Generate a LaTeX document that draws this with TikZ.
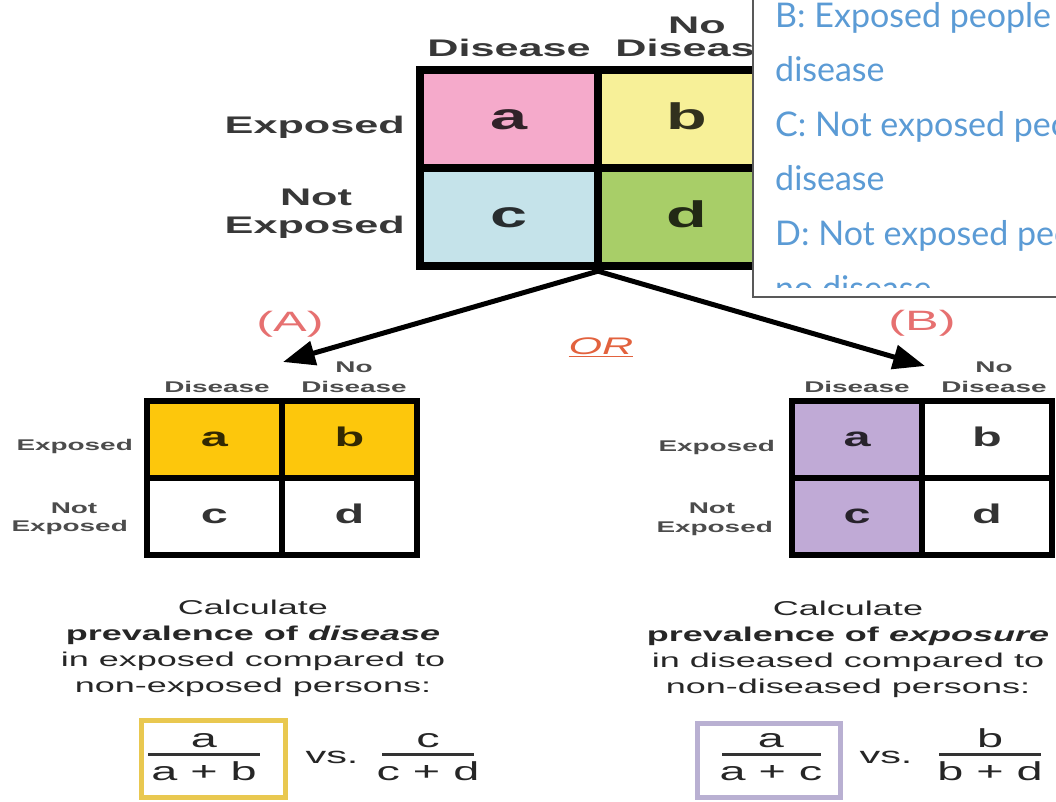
\documentclass[tikz,border=0pt]{standalone}
\usepackage{fontspec}
\usetikzlibrary{arrows.meta}
\newfontfamily\widefont{Liberation Sans}[FakeStretch=1.8]
\newfontfamily\notefont{Lato}
\definecolor{cellpink}{RGB}{245,170,203}
\definecolor{cellyellow}{RGB}{247,240,152}
\definecolor{cellblue}{RGB}{197,227,234}
\definecolor{cellgreen}{RGB}{168,206,104}
\definecolor{cellgold}{RGB}{253,199,12}
\definecolor{celllilac}{RGB}{192,170,214}
\definecolor{noteblue}{RGB}{91,155,213}
\definecolor{tagred}{RGB}{230,112,112}
\definecolor{orred}{RGB}{226,98,62}
\definecolor{boxgold}{RGB}{233,200,80}
\definecolor{boxlilac}{RGB}{185,176,210}
\begin{document}
\begin{tikzpicture}[x=1pt, y=-1pt,
  bigcell/.style={draw, line width=8pt, minimum width=178pt, minimum height=98pt, inner sep=0pt,
    text height=20pt, text depth=0pt, font=\widefont\bfseries\fontsize{37}{37}\selectfont},
  smallcell/.style={draw, line width=6pt, minimum width=135pt, minimum height=77pt, inner sep=0pt,
    text height=14.5pt, text depth=0pt, font=\widefont\bfseries\fontsize{27}{27}\selectfont},
  biglbl/.style={inner sep=0pt, text=black!78, font=\widefont\bfseries\fontsize{24}{26}\selectfont},
  smalllbl/.style={inner sep=0pt, text=black!70, font=\widefont\bfseries\fontsize{15.5}{17}\selectfont},
  body/.style={inner sep=0pt, align=center, text=black!85, font=\widefont\fontsize{20}{26}\selectfont},
  frm/.style={inner sep=0pt, text=black!85, font=\widefont\fontsize{26}{26}\selectfont},
  bar/.style={line width=3.5pt, black!80},
  arr/.style={line width=5pt, -{Triangle[length=32pt,width=24pt]}},
  note/.style={inner sep=0pt, text=noteblue, font=\notefont\fontsize{34}{34}\selectfont},
  tag/.style={inner sep=0pt, text=tagred, font=\widefont\fontsize{28}{28}\selectfont}
]
\useasboundingbox (0,0) rectangle (1056,801);
\clip (0,0) rectangle (1056,801);

% main table
\foreach \n/\x/\y/\c in {a/509/119/cellpink, b/687/119/cellyellow, c/509/217/cellblue, d/687/217/cellgreen}
  \node[bigcell, fill=\c, text=\c!20!black] (top\n) at (\x,\y) {\n};
\node[biglbl, anchor=base] (topdis) at (509,56) {Disease};
\node[biglbl, anchor=base] (topno) at (697,33) {No};
\node[biglbl, anchor=base] (topnodis) at (697,56) {Disease};
\node[biglbl, anchor=base east] (topexp) at (405,133) {Exposed};
\node[biglbl, anchor=base] (topnot) at (316,205) {Not};
\node[biglbl, anchor=base east] (topnotexp) at (405,233) {Exposed};

% table (A)
\foreach \n/\x/\y/\c in {a/214.5/439/cellgold, b/349.5/439/cellgold, c/214.5/516/white, d/349.5/516/white}
  \node[smallcell, fill=\c, text=\c!20!black] (left\n) at (\x,\y) {\n};
\node[smalllbl, anchor=base] (leftdis) at (217,392) {Disease};
\node[smalllbl, anchor=base] (leftno) at (354,372) {No};
\node[smalllbl, anchor=base] (leftnodis) at (354,392) {Disease};
\node[smalllbl, anchor=base east] (leftexp) at (133,450) {Exposed};
\node[smalllbl, anchor=base] (leftnot) at (74,513) {Not};
\node[smalllbl, anchor=base east] (leftnotexp) at (128,531) {Exposed};

% table (B)
\foreach \n/\x/\y/\c in {a/857/439/celllilac, b/987/439/white, c/857/516/celllilac, d/987/516/white}
  \node[smallcell, minimum width=130pt, fill=\c, text=\c!20!black] (right\n) at (\x,\y) {\n};
\node[smalllbl, anchor=base] (rightdis) at (857,392) {Disease};
\node[smalllbl, anchor=base] (rightno) at (994,372) {No};
\node[smalllbl, anchor=base] (rightnodis) at (994,392) {Disease};
\node[smalllbl, anchor=base east] (rightexp) at (775,451) {Exposed};
\node[smalllbl, anchor=base] (rightnot) at (712,513) {Not};
\node[smalllbl, anchor=base east] (rightnotexp) at (773,532) {Exposed};

% the two ways
\coordinate (tipA) at (283,362);
\coordinate (tipB) at (925,366);
\draw[arr] (topc.south east) -- (tipA);
\draw[arr] (topd.south west) -- (tipB);
\node[tag] (tagA) at (290,324) {(A)};
\node[tag] (tagB) at (922,323) {(B)};
\node[inner sep=0pt, text=orred, font=\widefont\itshape\fontsize{24}{24}\selectfont] (or) at (601,347) {\underline{OR}};

% what to calculate
\node[body, anchor=north] (calcA) at (253,600) {Calculate\\
  {\bfseries prevalence of \itshape disease}\\
  in exposed compared to\\
  non-exposed persons:};
\node[body, anchor=north] (calcB) at (848,601) {Calculate\\
  {\bfseries prevalence of \itshape exposure}\\
  in diseased compared to\\
  non-diseased persons:};

% fractions
\draw[line width=5pt, boxgold] (141,720) rectangle (285,797);
\node[frm, anchor=base] (numA) at (204,747) {a};
\draw[bar] (148,754.5) -- (260,754.5);
\node[frm, anchor=base] (denA) at (204,780) {a + b};
\node[frm, font=\widefont\fontsize{23}{23}\selectfont, anchor=base] (vsA) at (332,763) {vs.};
\node[frm, anchor=base] (numA2) at (428,747) {c};
\draw[bar] (382,754.5) -- (474,754.5);
\node[frm, anchor=base] (denA2) at (428,780) {c + d};

\draw[line width=5pt, boxlilac] (697,723) rectangle (840,797);
\node[frm, anchor=base] (numB) at (771,747) {a};
\draw[bar] (722,754.5) -- (821,754.5);
\node[frm, anchor=base] (denB) at (771,780) {a + c};
\node[frm, font=\widefont\fontsize{23}{23}\selectfont, anchor=base] (vsB) at (886,763) {vs.};
\node[frm, anchor=base] (numB2) at (990,747) {b};
\draw[bar] (939,754.5) -- (1041,754.5);
\node[frm, anchor=base] (denB2) at (990,780) {b + d};

% note box on top
\draw[line width=1.5pt, draw=black!65, fill=white] (753,-10) rectangle (1070,297);
\begin{scope}
\clip (753,0) rectangle (1056,287);
\foreach \t [count=\i from 0] in {B: Exposed people, disease, C: Not exposed people, disease, D: Not exposed people, no disease}
  \node[note, anchor=base west] (note\i) at (775,27+54.6*\i) {\t};
\end{scope}
\end{tikzpicture}
\end{document}
